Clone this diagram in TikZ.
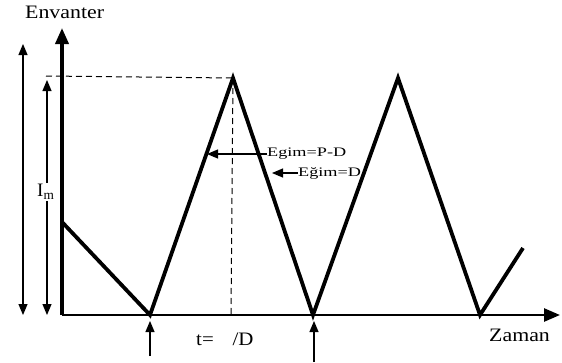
\documentclass[tikz,border=0pt]{standalone}
\usepackage{fontspec}
\setmainfont{Liberation Serif}
\usetikzlibrary{arrows.meta}
\begin{document}
\begin{tikzpicture}[x=1pt,y=-1pt,
  axis/.style={line width=2.6pt,-{Triangle[length=16pt,width=13pt]}},
  saw/.style={line width=3.8pt,line join=miter,line cap=butt},
  thinarrow/.style={line width=1.2pt,-{Triangle[length=11pt,width=9pt]}},
  dashline/.style={line width=1pt,dash pattern=on 6pt off 4pt},
  lbl/.style={inner sep=0pt,font=\fontsize{19}{19}\selectfont},
  smalllbl/.style={inner sep=0pt,font=\fontsize{13}{13}\selectfont}]
\useasboundingbox (0,0) rectangle (562,362);
% key coordinates
\coordinate (O) at (62,315);
\coordinate (Ytop) at (62,28);
\coordinate (Xend) at (560,315);
\coordinate (S0) at (62,222);
\coordinate (B1) at (150,315);
\coordinate (P1) at (233,78);
\coordinate (B2) at (313,315);
\coordinate (P2) at (398,78);
\coordinate (B3) at (480,315);
\coordinate (E) at (523,248);
% axes
\draw[axis,line width=3.6pt] (O) -- (Ytop);
\draw[axis] (O) -- (Xend);
% sawtooth
\draw[saw] (S0) -- (B1) -- (P1) -- (B2) -- (P2) -- (B3) -- (E);
% dashed guides
\coordinate (Dl) at (46,76);
\draw[dashline] (Dl) -- (P1);
\coordinate (Pd) at (231,315);
\draw[dashline] (P1) -- (Pd);
% left dimension arrows
\coordinate (A1t) at (23,44);
\coordinate (A1b) at (23,315);
\coordinate (A1m) at (23,180);
\draw[thinarrow] (A1m) -- (A1t);
\draw[thinarrow] (A1m) -- (A1b);
\coordinate (A2t) at (47,80);
\coordinate (A2b) at (47,315);
\coordinate (A2m) at (47,200);
\draw[thinarrow] (A2m) -- (A2t);
\draw[thinarrow] (A2m) -- (A2b);
\node[lbl,anchor=west,fill=white,inner sep=1pt] (Im) at (36,192) {I\textsubscript{m}};
% bottom arrows
\coordinate (U1s) at (150,356);
\coordinate (U1t) at (150,321);
\draw[thinarrow] (U1s) -- (U1t);
\coordinate (U2s) at (314,362);
\coordinate (U2t) at (314,321);
\draw[thinarrow] (U2s) -- (U2t);
% slope labels
\node[smalllbl,anchor=west] (L1) at (267,154) {\scalebox{1.4}[1]{Egim=P-D}};
\coordinate (L1t) at (207,154);
\draw[thinarrow] (L1.west) -- (L1t);
\node[smalllbl,anchor=west] (L2) at (298,173) {\scalebox{1.4}[1]{Eğim=D}};
\coordinate (L2t) at (272,173);
\draw[thinarrow] (L2.west) -- (L2t);
% axis labels
\node[lbl,anchor=west] (Env) at (25,12) {\scalebox{1.15}[1]{Envanter}};
\node[lbl,anchor=west] (Zam) at (489,335) {\scalebox{1.15}[1]{Zaman}};
\node[lbl,anchor=west] (T) at (196,339) {\scalebox{1.1}[1]{t=\hspace{0.9em}/D}};
\end{tikzpicture}
\end{document}
